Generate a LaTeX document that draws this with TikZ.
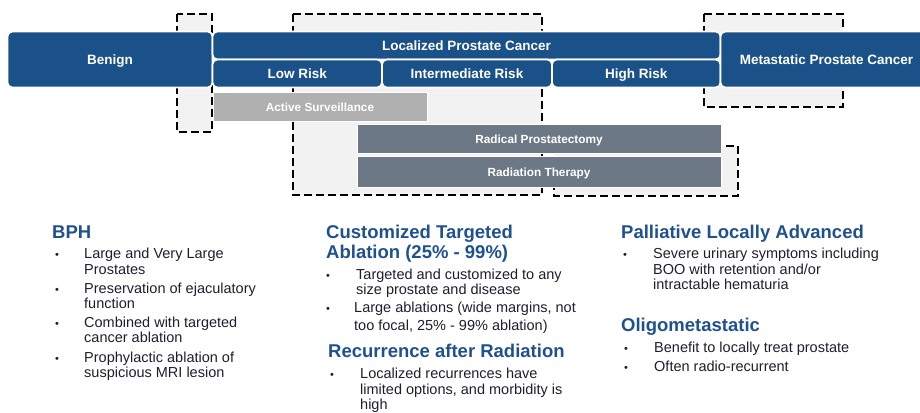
\documentclass[tikz,border=0pt]{standalone}
\usepackage{fontspec}
\setmainfont{Liberation Sans}

\definecolor{riskblue}{HTML}{1B5189}
\definecolor{survgray}{HTML}{B0B0B0}
\definecolor{therapygray}{HTML}{6D7886}
\definecolor{zonefill}{HTML}{F2F2F2}
\definecolor{headblue}{HTML}{1F5190}
\definecolor{bodytext}{HTML}{1E1E30}

\tikzset{x=1pt, y=-1pt, % one unit per pixel, y running downwards
bluebar/.style={draw=white, line width=1.6pt, fill=riskblue, rounded corners=5pt, text=white, font=\fontsize{13.5}{15}\bfseries\selectfont, inner sep=0pt, text height=10pt, text depth=0pt}, % stage and risk bars
therapybar/.style={draw=white, line width=1pt, fill=therapygray, text=white, font=\fontsize{11.8}{14}\bfseries\selectfont, inner sep=0pt, text height=9.5pt, text depth=0pt}, % treatment bars
zone/.style={draw=black, fill=zonefill, line width=2.6pt, dash pattern=on 8pt off 4pt}, % dashed target areas
heading/.style={anchor=base west, inner sep=0pt, align=left, text=headblue, font=\fontsize{18.5}{20}\bfseries\selectfont}, % base = last line
itemtext/.style={anchor=base west, inner sep=0pt, align=left, text=bodytext, font=\fontsize{14.5}{15.5}\selectfont}, % base = last line
bulletmark/.style={anchor=base, inner sep=0pt, text=bodytext, font=\fontsize{11}{12}\selectfont},
}

\begin{document}
\begin{tikzpicture}
    \useasboundingbox (0,0) rectangle (920,412);
    \clip (0,0) rectangle (920,412);

    % dashed areas behind the bars
    \draw[zone] (177,14) rectangle (212,132);
    \draw[zone] (293,14) rectangle (542,195);
    \draw[zone] (554,146) rectangle (738,196);
    \draw[zone] (704,14) rectangle (843,107);

    % disease stages
    \node[bluebar, minimum width=205, minimum height=56] (benign) at (110,59.5) {Benign};
    \node[bluebar, minimum width=508, minimum height=28] (localized) at (466.5,45.5) {Localized Prostate Cancer};
    \node[bluebar, minimum width=169.5, minimum height=28] (low) at (297.25,73.5) {Low Risk};
    \node[bluebar, minimum width=170, minimum height=28] (intermediate) at (467,73.5) {Intermediate Risk};
    \node[bluebar, minimum width=168.5, minimum height=28] (high) at (636.25,73.5) {High Risk};
    \node[bluebar, minimum width=212, minimum height=56] (metastatic) at (826.5,59.5) {Metastatic Prostate Cancer};

    % treatments
    \node[therapybar, fill=survgray, minimum width=214, minimum height=29] (surveillance) at (320,106.5) {Active Surveillance};
    \node[therapybar, minimum width=364, minimum height=29] (prostatectomy) at (539,139) {Radical Prostatectomy};
    \node[therapybar, minimum width=364, minimum height=31] (radiation) at (539,172) {Radiation Therapy};

    % BPH
    \node[heading] (bph) at (52,238) {BPH};
    \node[itemtext] (bph1) at (84,274) {Large and Very Large\\Prostates};
    \node[itemtext] (bph2) at (84,308.5) {Preservation of ejaculatory\\function};
    \node[itemtext] (bph3) at (84,342.5) {Combined with targeted\\cancer ablation};
    \node[itemtext] (bph4) at (84,377.5) {Prophylactic ablation of\\suspicious MRI lesion};
    \foreach \y in {258.5,293,327,362}
        \node[bulletmark] (bphdot\y) at (57,\y) {•};

    % targeted ablation
    \node[heading] (custom) at (326,258) {Customized Targeted\\Ablation (25\% - 99\%)};
    \node[itemtext] (custom1) at (356,294.5) {Targeted and customized to any\\size prostate and disease};
    \node[itemtext] (custom2) at (354,330) {Large ablations (wide margins, not\\[2.5pt]too focal, 25\% - 99\% ablation)};
    \foreach \y in {279,312}
        \node[bulletmark] (customdot\y) at (328,\y) {•};

    % recurrence
    \node[heading] (recurrence) at (328,357) {Recurrence after Radiation};
    \node[itemtext] (recurrence1) at (360,409.5) {Localized recurrences have\\limited options, and morbidity is\\high};
    \node[bulletmark] (recurrencedot) at (332,378.5) {•};

    % palliative
    \node[heading] (palliative) at (621,238) {Palliative Locally Advanced};
    \node[itemtext] (palliative1) at (653,289.5) {Severe urinary symptoms including\\BOO with retention and/or\\intractable hematuria};
    \node[bulletmark] (palliativedot) at (625,258.5) {•};

    % oligometastatic
    \node[heading] (oligo) at (621,331) {Oligometastatic};
    \node[itemtext] (oligo1) at (654,352) {Benefit to locally treat prostate};
    \node[itemtext] (oligo2) at (654,371) {Often radio-recurrent};
    \foreach \y in {352,371}
        \node[bulletmark] (oligodot\y) at (626,\y) {•};
\end{tikzpicture}
\end{document}
